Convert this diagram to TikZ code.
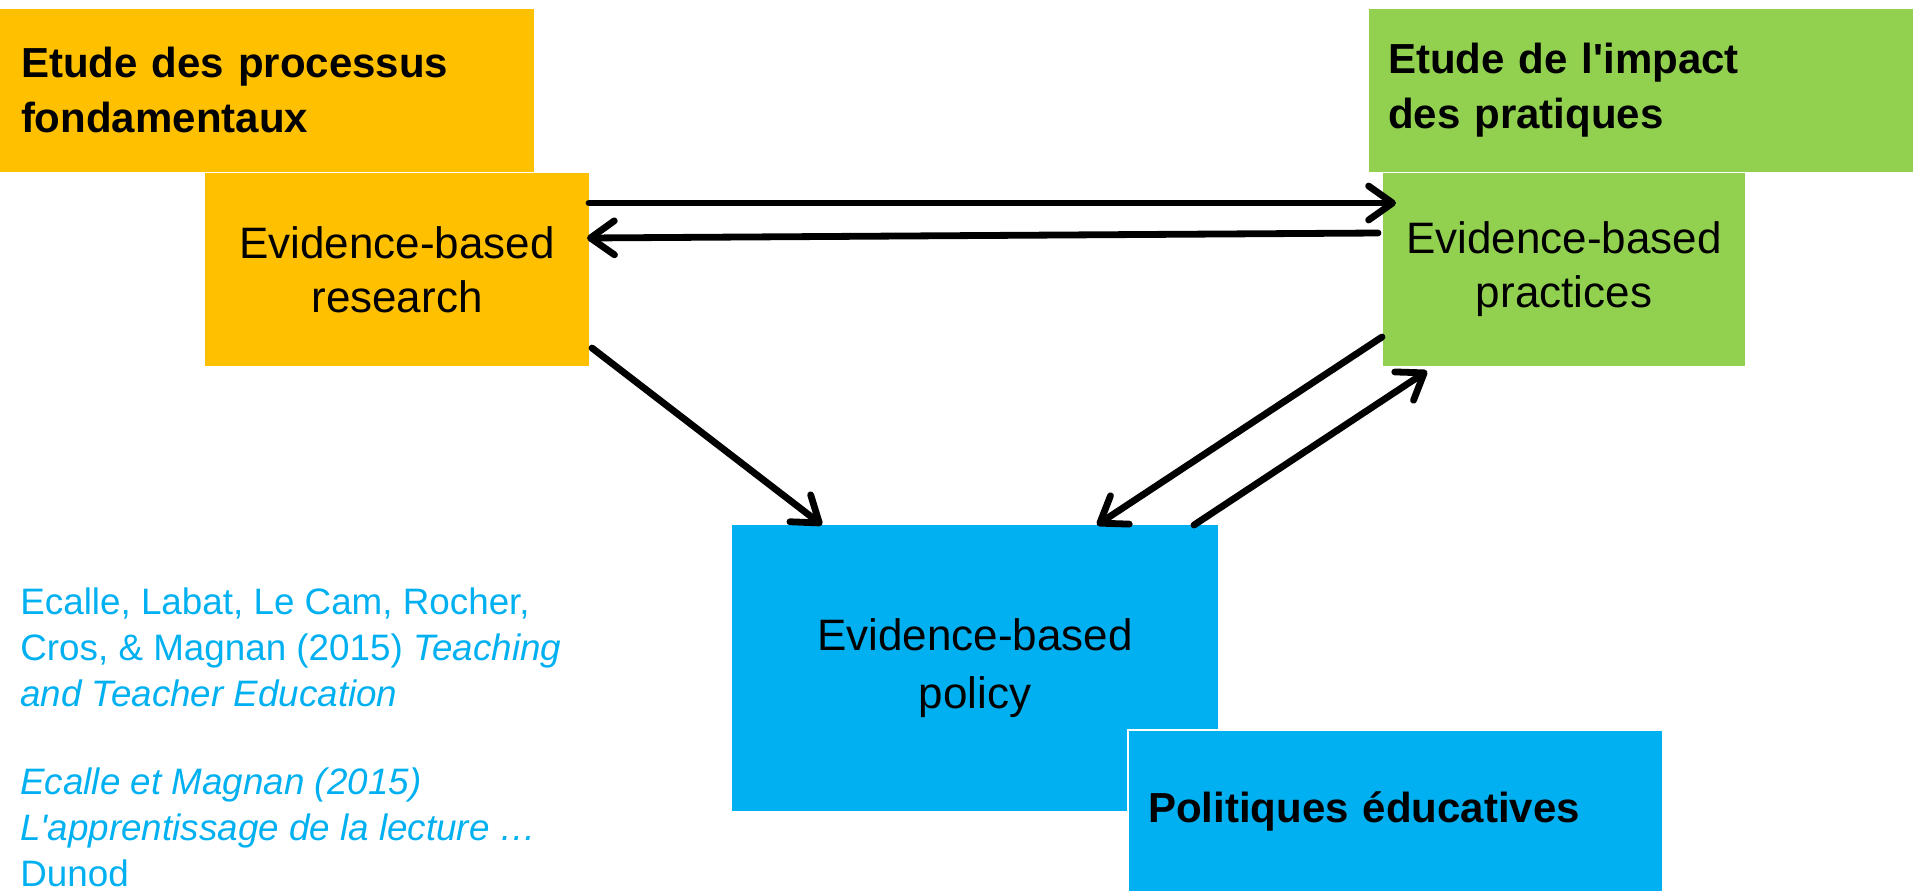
\documentclass[tikz,border=0pt]{standalone}
\usepackage{fontspec}
\setmainfont{Liberation Sans}[Ligatures=TeXOff]
\usetikzlibrary{arrows.meta}
\definecolor{orangebox}{HTML}{FFC000}
\definecolor{greenbox}{HTML}{92D050}
\definecolor{bluebox}{HTML}{00B0F0}

\begin{document}
\begin{tikzpicture}[x=0.5pt,y=-0.5pt,
  box/.style={anchor=north west,inner sep=0pt,outer sep=0pt,align=center,
    font=\fontsize{22}{27}\selectfont},
  headbox/.style={anchor=north west,inner ysep=0pt,outer sep=0pt,align=left,
    font=\bfseries\fontsize{21}{27.5}\selectfont},
  link/.style={line width=3.4pt,line cap=round,
    -{Straight Barb[length=12pt,width=17pt,round]}}]
\useasboundingbox (0,0) rectangle (1913,890);
% headings
\node[headbox,fill=orangebox,inner xsep=10.5pt,text width=246pt,minimum height=81.5pt] (fundhead) at (0,8.5) {Etude des processus\\fondamentaux};
\node[headbox,fill=greenbox,inner xsep=9.5pt,text width=253pt,minimum height=81.5pt] (impacthead) at (1369,8.5) {Etude de l'impact\\des pratiques};
% the three boxes
\node[box,fill=orangebox,minimum width=192pt,minimum height=96.5pt] (research) at (205,173) {Evidence-based\\research};
\node[box,fill=greenbox,minimum width=181pt,minimum height=96.5pt] (practices) at (1383,173) {Evidence-based\\practices};
\node[box,fill=bluebox,minimum width=243pt,minimum height=143pt,font=\fontsize{22}{29}\selectfont] (policy) at (732,525) {Evidence-based\\policy};
\node[headbox,fill=bluebox,draw=white,line width=0.6pt,inner xsep=10pt,text width=247.5pt,minimum height=81pt] (polhead) at (1128,730) {Politiques éducatives};
% references
\node[anchor=north west,inner sep=0pt,align=left,text=bluebox,font=\fontsize{18.4}{23}\selectfont] (refs) at (20,587) {Ecalle, Labat, Le Cam, Rocher,\\Cros, \& Magnan (2015) \textit{Teaching}\\\textit{and Teacher Education}\\[21pt]\textit{Ecalle et Magnan (2015)}\\\textit{L'apprentissage de la lecture …}\\Dunod};
% arrows
\draw[link] ([yshift=-15pt]research.north east) -- ([xshift=6.5pt,yshift=-15pt]practices.north west);
\draw[link] ([xshift=-2.5pt,yshift=-30pt]practices.north west) -- ([xshift=-1pt,yshift=-32.5pt]research.north east);
\draw[link] ([xshift=1.5pt,yshift=9pt]research.south east) -- ([xshift=45pt]policy.north west);
\draw[link] ([xshift=-0.5pt,yshift=14.5pt]practices.south west) -- ([xshift=182.5pt]policy.north west);
\draw[link] ([xshift=-12pt]policy.north east) -- ([xshift=22pt,yshift=-2.5pt]practices.south west);
\end{tikzpicture}
\end{document}
